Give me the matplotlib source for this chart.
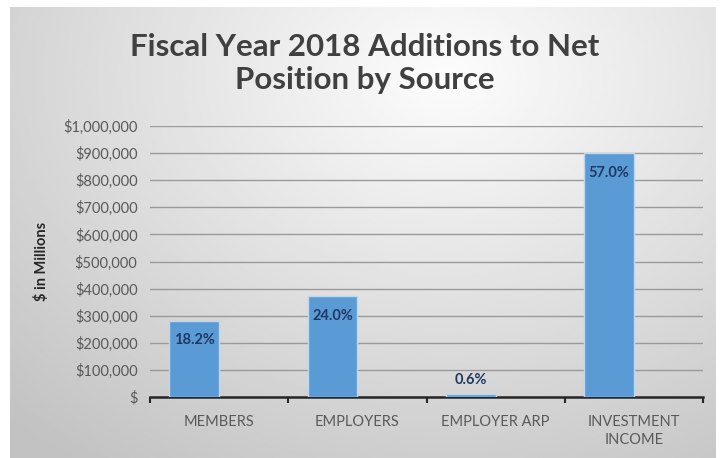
import numpy as np
import matplotlib
matplotlib.use('Agg')
import matplotlib.pyplot as plt
from matplotlib.ticker import FuncFormatter, FixedLocator

categories = ['MEMBERS', 'EMPLOYERS', 'EMPLOYER ARP', 'INVESTMENT\nINCOME']
values = [281000, 372000, 9400, 899000]   # $ in millions
pct_labels = ['18.2%', '24.0%', '0.6%', '57.0%']
yticks = list(range(0, 1000001, 100000))

plt.rcParams['font.family'] = ['Lato', 'DejaVu Sans']

fig = plt.figure(figsize=(7.22, 4.58), dpi=100)
fig.patch.set_facecolor('white')

# grey gradient panel behind the chart
bg = fig.add_axes([10/722, 0, 706/722, 451/458])
yy, xx = np.mgrid[0:1:200j, 0:1:300j]
d = np.sqrt(((xx - 0.62) / 1.1) ** 2 + ((yy - 0.85) / 1.3) ** 2)
shade = np.clip(0.99 - 0.28 * d, 0.76, 0.99)
bg.imshow(shade, cmap='gray', vmin=0, vmax=1, aspect='auto', origin='lower',
          extent=[0, 1, 0, 1])
bg.set_axis_off()

fig.text(0.505, 0.862, 'Fiscal Year 2018 Additions to Net\nPosition by Source',
         ha='center', va='center', fontsize=22.5, fontweight='bold',
         color='#404040', linespacing=1.2)

ax = fig.add_axes([150/722, 61/458, 553/722, 271/458])
ax.patch.set_alpha(0)

x = np.arange(len(categories))
bars = ax.bar(x - 0.18, values, width=0.36, color='#5b9bd5',
              edgecolor='#bcd7ee', linewidth=1.0, zorder=3)

for b, lab, v in zip(bars, pct_labels, values):
    cx = b.get_x() + b.get_width() / 2
    if v > 100000:
        ax.text(cx, v - 72000, lab, ha='center', va='center', fontsize=10.5,
                fontweight='bold', color='#1f3864', zorder=4)
    else:
        ax.text(cx, v + 55000, lab, ha='center', va='center', fontsize=10.5,
                fontweight='bold', color='#1f3864', zorder=4)

ax.set_xlim(-0.5, len(categories) - 0.5)
ax.set_ylim(0, 1000000)
ax.yaxis.set_major_locator(FixedLocator(yticks))
ax.yaxis.set_major_formatter(FuncFormatter(
    lambda v, p: '$' if v == 0 else '${:,.0f}'.format(v)))
ax.grid(axis='y', color='#9a9a9a', linewidth=1.0, zorder=0)
ax.set_axisbelow(True)

ax.set_xticks(x)
ax.set_xticklabels(categories, fontsize=10.5, color='#595959', linespacing=1.35)
ax.tick_params(axis='x', length=0, pad=13)
ax.tick_params(axis='y', length=0, pad=9, labelsize=10.5, labelcolor='#595959')
ax.set_xticks(np.arange(-0.5, len(categories)), minor=True)
ax.tick_params(axis='x', which='minor', length=4, width=1.5, color='#262626',
               direction='out')

for s in ['top', 'right', 'left']:
    ax.spines[s].set_visible(False)
ax.spines['bottom'].set_color('#262626')
ax.spines['bottom'].set_linewidth(1.8)

ax.set_ylabel('$ in Millions', fontsize=10.5, fontweight='bold', color='#262626',
              labelpad=10)

fig.savefig('out.png', dpi=100)
